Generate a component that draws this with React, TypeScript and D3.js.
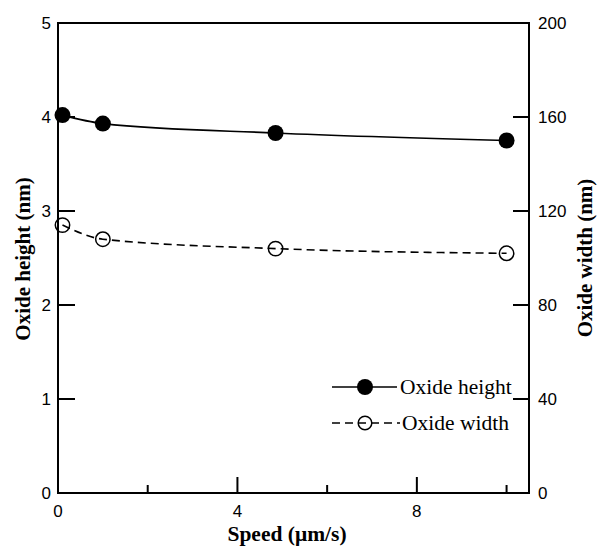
import React from "react";
import * as d3 from "d3";

// values
const speed = [0.1, 1, 4.85, 10];
const oxideHeight = [4.02, 3.93, 3.83, 3.75];
const oxideWidth = [114, 108, 104, 102];
const leftTicks = [0, 1, 2, 3, 4, 5];
const rightTicks = [0, 40, 80, 120, 160, 200];
const xMajor = [0, 4, 8];
const xMinor = [2, 6, 10];

const W = 599;
const H = 548;
const margin = { top: 23, right: 70, bottom: 55, left: 58 };

export default function App() {
  const x = d3
    .scaleLinear()
    .domain([0, 10.5])
    .range([margin.left, W - margin.right]);
  const y = d3
    .scaleLinear()
    .domain([0, 5])
    .range([H - margin.bottom, margin.top]);
  const y2 = d3
    .scaleLinear()
    .domain([0, 200])
    .range([H - margin.bottom, margin.top]);

  const hPts = speed.map((s, i) => [x(s), y(oxideHeight[i])] as [number, number]);
  const wPts = speed.map((s, i) => [x(s), y2(oxideWidth[i])] as [number, number]);
  const line = d3.line().curve(d3.curveMonotoneX);

  const x0 = x(0);
  const x1 = x(10.5);
  const yb = y(0);
  const yt = y(5);
  const tickFont = "Liberation Sans, Arial, sans-serif";
  const serif = "Liberation Serif, Times New Roman, serif";

  return (
    <svg
      width={W}
      height={H}
      style={{ position: "absolute", left: 0, top: 0, background: "#fff" }}
    >
      {/* frame */}
      <rect x={x0} y={yt} width={x1 - x0} height={yb - yt} fill="none" stroke="#000" strokeWidth={2} />

      {/* left ticks */}
      {leftTicks.map(t => (
        <g key={"l" + t}>
          {t > 0 && t < 5 && (
            <line x1={x0} x2={x0 + 17} y1={y(t)} y2={y(t)} stroke="#000" strokeWidth={2} />
          )}
          <text x={x0 - 7} y={y(t)} dy="0.36em" textAnchor="end" fontFamily={tickFont} fontSize={17}>
            {t}
          </text>
        </g>
      ))}

      {/* right ticks */}
      {rightTicks.map(t => (
        <g key={"r" + t}>
          {t > 0 && t < 200 && (
            <line x1={x1 - 16} x2={x1} y1={y2(t)} y2={y2(t)} stroke="#000" strokeWidth={2} />
          )}
          <text x={x1 + 9} y={y2(t)} dy="0.36em" textAnchor="start" fontFamily={tickFont} fontSize={17}>
            {t}
          </text>
        </g>
      ))}

      {/* x ticks */}
      {xMajor.map(t => (
        <g key={"xM" + t}>
          {t > 0 && <line x1={x(t)} x2={x(t)} y1={yb} y2={yb - 16} stroke="#000" strokeWidth={2} />}
          <text x={x(t)} y={yb + 24} textAnchor="middle" fontFamily={tickFont} fontSize={17}>
            {t}
          </text>
        </g>
      ))}
      {xMinor.map(t => (
        <line key={"xm" + t} x1={x(t)} x2={x(t)} y1={yb} y2={yb - 8} stroke="#000" strokeWidth={2} />
      ))}

      {/* series */}
      <path d={line(hPts) || ""} fill="none" stroke="#000" strokeWidth={1.6} />
      <path d={line(wPts) || ""} fill="none" stroke="#000" strokeWidth={1.6} strokeDasharray="8,5" />
      {hPts.map((p, i) => (
        <circle key={"h" + i} cx={p[0]} cy={p[1]} r={8} fill="#000" />
      ))}
      {wPts.map((p, i) => (
        <circle key={"w" + i} cx={p[0]} cy={p[1]} r={7.2} fill="none" stroke="#000" strokeWidth={1.5} />
      ))}

      {/* legend */}
      <line x1={332} x2={397} y1={387} y2={387} stroke="#000" strokeWidth={1.6} />
      <circle cx={365} cy={387} r={8} fill="#000" />
      <text x={400} y={387} dy="0.33em" fontFamily={serif} fontSize={21.5}>
        Oxide height
      </text>
      <line x1={332} x2={400} y1={423} y2={423} stroke="#000" strokeWidth={1.6} strokeDasharray="8,5" />
      <circle cx={365} cy={423} r={6.8} fill="none" stroke="#000" strokeWidth={1.5} />
      <text x={402} y={423} dy="0.33em" fontFamily={serif} fontSize={21.5}>
        Oxide width
      </text>

      {/* axis titles */}
      <text x={287} y={541} textAnchor="middle" fontFamily={serif} fontWeight="bold" fontSize={21.5}>
        Speed (μm/s)
      </text>
      <text
        transform={`translate(23,259) rotate(-90)`}
        textAnchor="middle"
        dy="0.33em"
        fontFamily={serif}
        fontWeight="bold"
        fontSize={21}
      >
        Oxide height (nm)
      </text>
      <text
        transform={`translate(585,258) rotate(-90)`}
        textAnchor="middle"
        dy="0.33em"
        fontFamily={serif}
        fontWeight="bold"
        fontSize={21}
      >
        Oxide width (nm)
      </text>
    </svg>
  );
}
